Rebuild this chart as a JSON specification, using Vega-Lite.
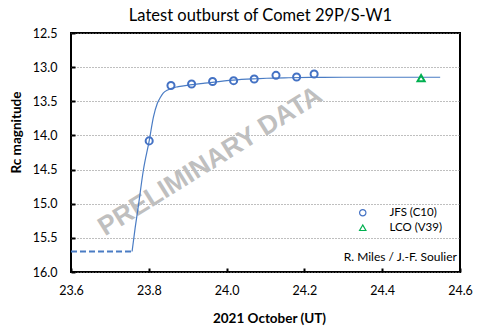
{
  "$schema": "https://vega.github.io/schema/vega-lite/v6.json",
  "autosize": "none",
  "width": 389,
  "height": 239,
  "padding": {"left": 71, "top": 33, "right": 19, "bottom": 59},
  "background": "white",
  "title": {"text": "Latest outburst of Comet 29P/S-W1", "font": "Lato", "fontSize": 16.5, "fontWeight": "normal", "color": "#000000", "anchor": "middle", "dx": -5, "offset": 3, "frame": "group"},
  "config": {
    "view": {"stroke": "#000000", "strokeWidth": 2},
    "axis": {"labelFont": "Lato", "labelFontSize": 12.5, "labelColor": "#000000", "titleFont": "Lato", "titleFontSize": 13.5, "titleFontWeight": "bold", "titleColor": "#000000", "domain": false, "tickColor": "#000000", "tickWidth": 2, "labelOverlap": false, "labelBound": false, "labelFlush": false, "tickCount": 20}
  },
  "datasets": {
    "fit": [
      {"day": 23.757, "mag": 15.70},
      {"day": 23.765, "mag": 15.35},
      {"day": 23.773, "mag": 15.04},
      {"day": 23.786, "mag": 14.51},
      {"day": 23.801, "mag": 14.08},
      {"day": 23.812, "mag": 13.73},
      {"day": 23.822, "mag": 13.53},
      {"day": 23.830, "mag": 13.44},
      {"day": 23.837, "mag": 13.38},
      {"day": 23.850, "mag": 13.33},
      {"day": 23.876, "mag": 13.285},
      {"day": 23.906, "mag": 13.26},
      {"day": 23.944, "mag": 13.235},
      {"day": 24.017, "mag": 13.19},
      {"day": 24.077, "mag": 13.17},
      {"day": 24.103, "mag": 13.163},
      {"day": 24.160, "mag": 13.155},
      {"day": 24.214, "mag": 13.15},
      {"day": 24.300, "mag": 13.148},
      {"day": 24.400, "mag": 13.148},
      {"day": 24.549, "mag": 13.148}
    ],
    "pre": [
      {"day": 23.600, "mag": 15.70},
      {"day": 23.757, "mag": 15.70}
    ],
    "obs": [
      {"day": 23.801, "mag": 14.08, "series": "JFS (C10)"},
      {"day": 23.857, "mag": 13.27, "series": "JFS (C10)"},
      {"day": 23.910, "mag": 13.247, "series": "JFS (C10)"},
      {"day": 23.964, "mag": 13.21, "series": "JFS (C10)"},
      {"day": 24.018, "mag": 13.198, "series": "JFS (C10)"},
      {"day": 24.071, "mag": 13.173, "series": "JFS (C10)"},
      {"day": 24.127, "mag": 13.12, "series": "JFS (C10)"},
      {"day": 24.180, "mag": 13.144, "series": "JFS (C10)"},
      {"day": 24.225, "mag": 13.10, "series": "JFS (C10)"},
      {"day": 24.500, "mag": 13.16, "series": "LCO (V39)"}
    ]
  },
  "layer": [
    {
      "data": {"values": [{"day": 23.958, "mag": 14.38, "label": "PRELIMINARY DATA"}]},
      "mark": {"type": "text", "font": "Liberation Sans", "fontWeight": "bold", "fontSize": 26.5, "color": "#BFBFBF", "angle": -32, "align": "center", "baseline": "middle"},
      "encoding": {
        "x": {"field": "day", "type": "quantitative", "scale": {"domain": [23.6, 24.6], "nice": false, "zero": false},
          "axis": {"title": "2021 October (UT)", "values": [23.6, 23.8, 24.0, 24.2, 24.4, 24.6], "format": ".1f", "grid": false, "tickSize": -4, "labelPadding": 16, "titleX": 198, "titleY": 46, "titleBaseline": "middle"}},
        "y": {"field": "mag", "type": "quantitative", "scale": {"domain": [12.5, 16.0], "reverse": true, "nice": false, "zero": false},
          "axis": {"title": "Rc  magnitude", "values": [12.5, 13.0, 13.5, 14.0, 14.5, 15.0, 15.5, 16.0], "format": ".1f", "grid": true, "gridColor": "#7F7F7F", "gridDash": [1, 2], "gridWidth": 1, "tickSize": -4, "labelPadding": 18, "titleX": -55, "titleY": 99, "titleBaseline": "middle", "titleAngle": -90}},
        "text": {"field": "label"}
      }
    },
    {
      "data": {"name": "fit"},
      "mark": {"type": "line", "color": "#4A7CC4", "strokeWidth": 1.2, "interpolate": "monotone"},
      "encoding": {
        "x": {"field": "day", "type": "quantitative"},
        "y": {"field": "mag", "type": "quantitative"}
      }
    },
    {
      "data": {"name": "pre"},
      "mark": {"type": "line", "color": "#4A7CC4", "strokeWidth": 2, "strokeDash": [6, 3]},
      "encoding": {
        "x": {"field": "day", "type": "quantitative"},
        "y": {"field": "mag", "type": "quantitative"}
      }
    },
    {
      "data": {"name": "obs"},
      "mark": {"type": "point", "filled": false, "strokeWidth": 2, "size": 50, "opacity": 1},
      "encoding": {
        "x": {"field": "day", "type": "quantitative"},
        "y": {"field": "mag", "type": "quantitative"},
        "color": {"field": "series", "type": "nominal", "scale": {"domain": ["JFS (C10)", "LCO (V39)"], "range": ["#4472C4", "#00B050"]},
          "legend": {"title": null, "orient": "none", "legendX": 286, "legendY": 174, "labelFont": "Lato", "labelFontSize": 11.5, "labelColor": "#000000", "symbolSize": 40, "symbolStrokeWidth": 1.2, "rowPadding": 2, "labelOffset": 21}},
        "shape": {"field": "series", "type": "nominal", "scale": {"domain": ["JFS (C10)", "LCO (V39)"], "range": ["circle", "triangle-up"]}, "legend": null}
      }
    },
    {
      "data": {"values": [{"day": 24.592, "mag": 15.78, "label": "R. Miles / J.-F. Soulier"}]},
      "mark": {"type": "text", "font": "Lato", "fontSize": 12, "color": "#000000", "align": "right", "baseline": "middle"},
      "encoding": {
        "x": {"field": "day", "type": "quantitative"},
        "y": {"field": "mag", "type": "quantitative"},
        "text": {"field": "label"}
      }
    }
  ]
}
